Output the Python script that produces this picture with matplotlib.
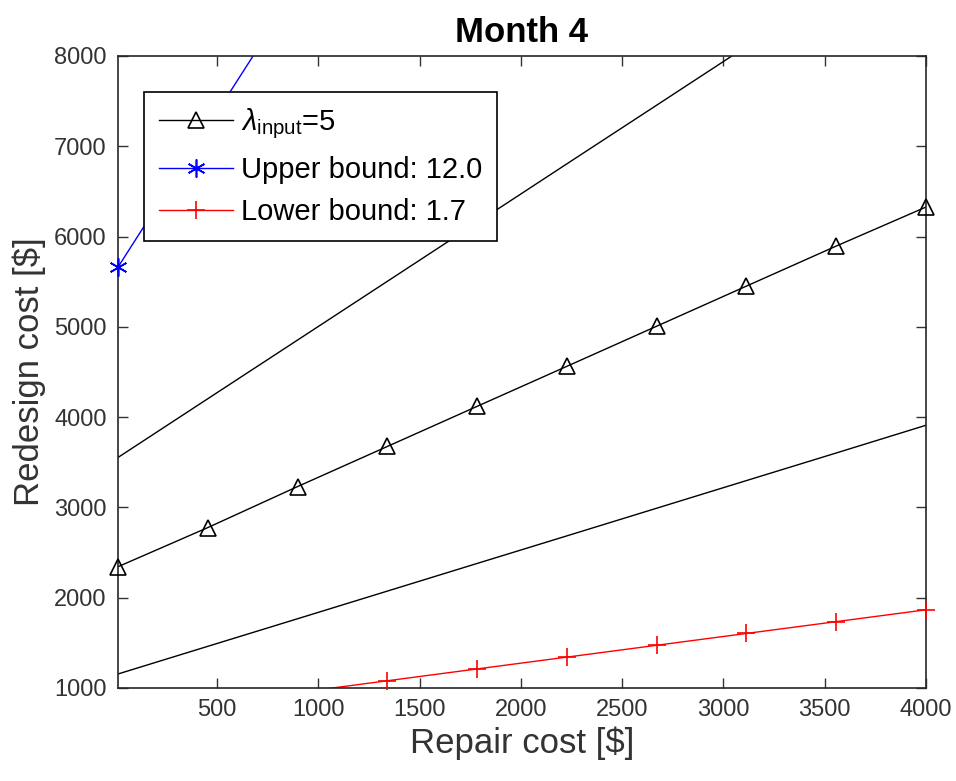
import numpy as np
import matplotlib
matplotlib.use('Agg')
import matplotlib.pyplot as plt

plt.rcParams['font.family'] = ['Liberation Sans', 'DejaVu Sans']
plt.rcParams['mathtext.fontset'] = 'custom'
plt.rcParams['mathtext.rm'] = 'Liberation Sans'
plt.rcParams['mathtext.it'] = 'Liberation Sans:italic'

# Repair cost sample points
repair_cost = [10, 453, 897, 1340, 1783, 2227, 2670, 3113, 3557, 4000]

# Redesign cost curves
lambda_input = [2343, 2776, 3231, 3675, 4119, 4563, 5007, 5451, 5895, 6327]
upper_guide = [3553, 4203, 4854, 5504, 6154, 6806, 7455, 8105, 8756, 9406]
lower_guide = [1155, 1461, 1767, 2073, 2379, 2685, 2991, 3297, 3603, 3910]
upper_bound = [5661, 7215, 8770, 10324, 11878, 13433, 14987, 16541, 18096, 19650]
lower_bound = [687, 818, 949, 1080, 1211, 1342, 1473, 1604, 1735, 1866]

x_ticks = [500, 1000, 1500, 2000, 2500, 3000, 3500, 4000]
y_ticks = [1000, 2000, 3000, 4000, 5000, 6000, 7000, 8000]
y_min, y_max = 1000, 8000

labels = [r'$\lambda_{\mathrm{input}}$=5', 'Upper bound: 12.0', 'Lower bound: 1.7']

tick_color = '#333333'


def visible(values):
    # MATLAB skips markers outside the axes limits
    return [i for i, v in enumerate(values) if y_min <= v <= y_max]


def curve(ax, y, color, marker, ms, mfc):
    line, = ax.plot(repair_cost, y, color=color, linewidth=1.0)
    idx = visible(y)
    pts, = ax.plot([repair_cost[i] for i in idx], [y[i] for i in idx],
                   linestyle='none', marker=marker, markersize=ms,
                   markerfacecolor=mfc, markeredgecolor=color,
                   markeredgewidth=1.2, clip_on=False, zorder=3)
    return line, pts


fig = plt.figure(figsize=(9.56, 7.81), dpi=100)
ax = fig.add_axes([0.1234, 0.1191, 0.8452, 0.8092])

ax.plot(repair_cost, upper_guide, color='black', linewidth=1.0)
h1 = curve(ax, lambda_input, 'black', '^', 11, 'none')
ax.plot(repair_cost, lower_guide, color='black', linewidth=1.0)
h2 = curve(ax, upper_bound, 'blue', (6, 2, 0), 13, 'blue')
h3 = curve(ax, lower_bound, 'red', '+', 13, 'red')

ax.set_xlim(10, 4000)
ax.set_ylim(y_min, y_max)
ax.set_xticks(x_ticks)
ax.set_yticks(y_ticks)
ax.tick_params(direction='in', length=7, width=1.0, top=True, right=True,
               labelsize=17, colors=tick_color, labelcolor=tick_color, pad=8)
for s in ax.spines.values():
    s.set_color('#262626')
    s.set_linewidth(1.2)

ax.set_title('Month 4', fontsize=25, fontweight='bold', pad=10)
ax.set_xlabel('Repair cost [$]', fontsize=25, color=tick_color, labelpad=4)
ax.set_ylabel('Redesign cost [$]', fontsize=25, color=tick_color, labelpad=6)

leg = ax.legend([h1, h2, h3], labels, loc='upper left',
                bbox_to_anchor=(0.1506, 0.8822), bbox_transform=fig.transFigure,
                fontsize=21, fancybox=False, framealpha=1, edgecolor='black',
                borderaxespad=0, handlelength=2.55, handletextpad=0.28,
                labelspacing=0.5, borderpad=0.5)
leg.get_frame().set_linewidth(1.2)

fig.savefig('out.png', dpi=100)
